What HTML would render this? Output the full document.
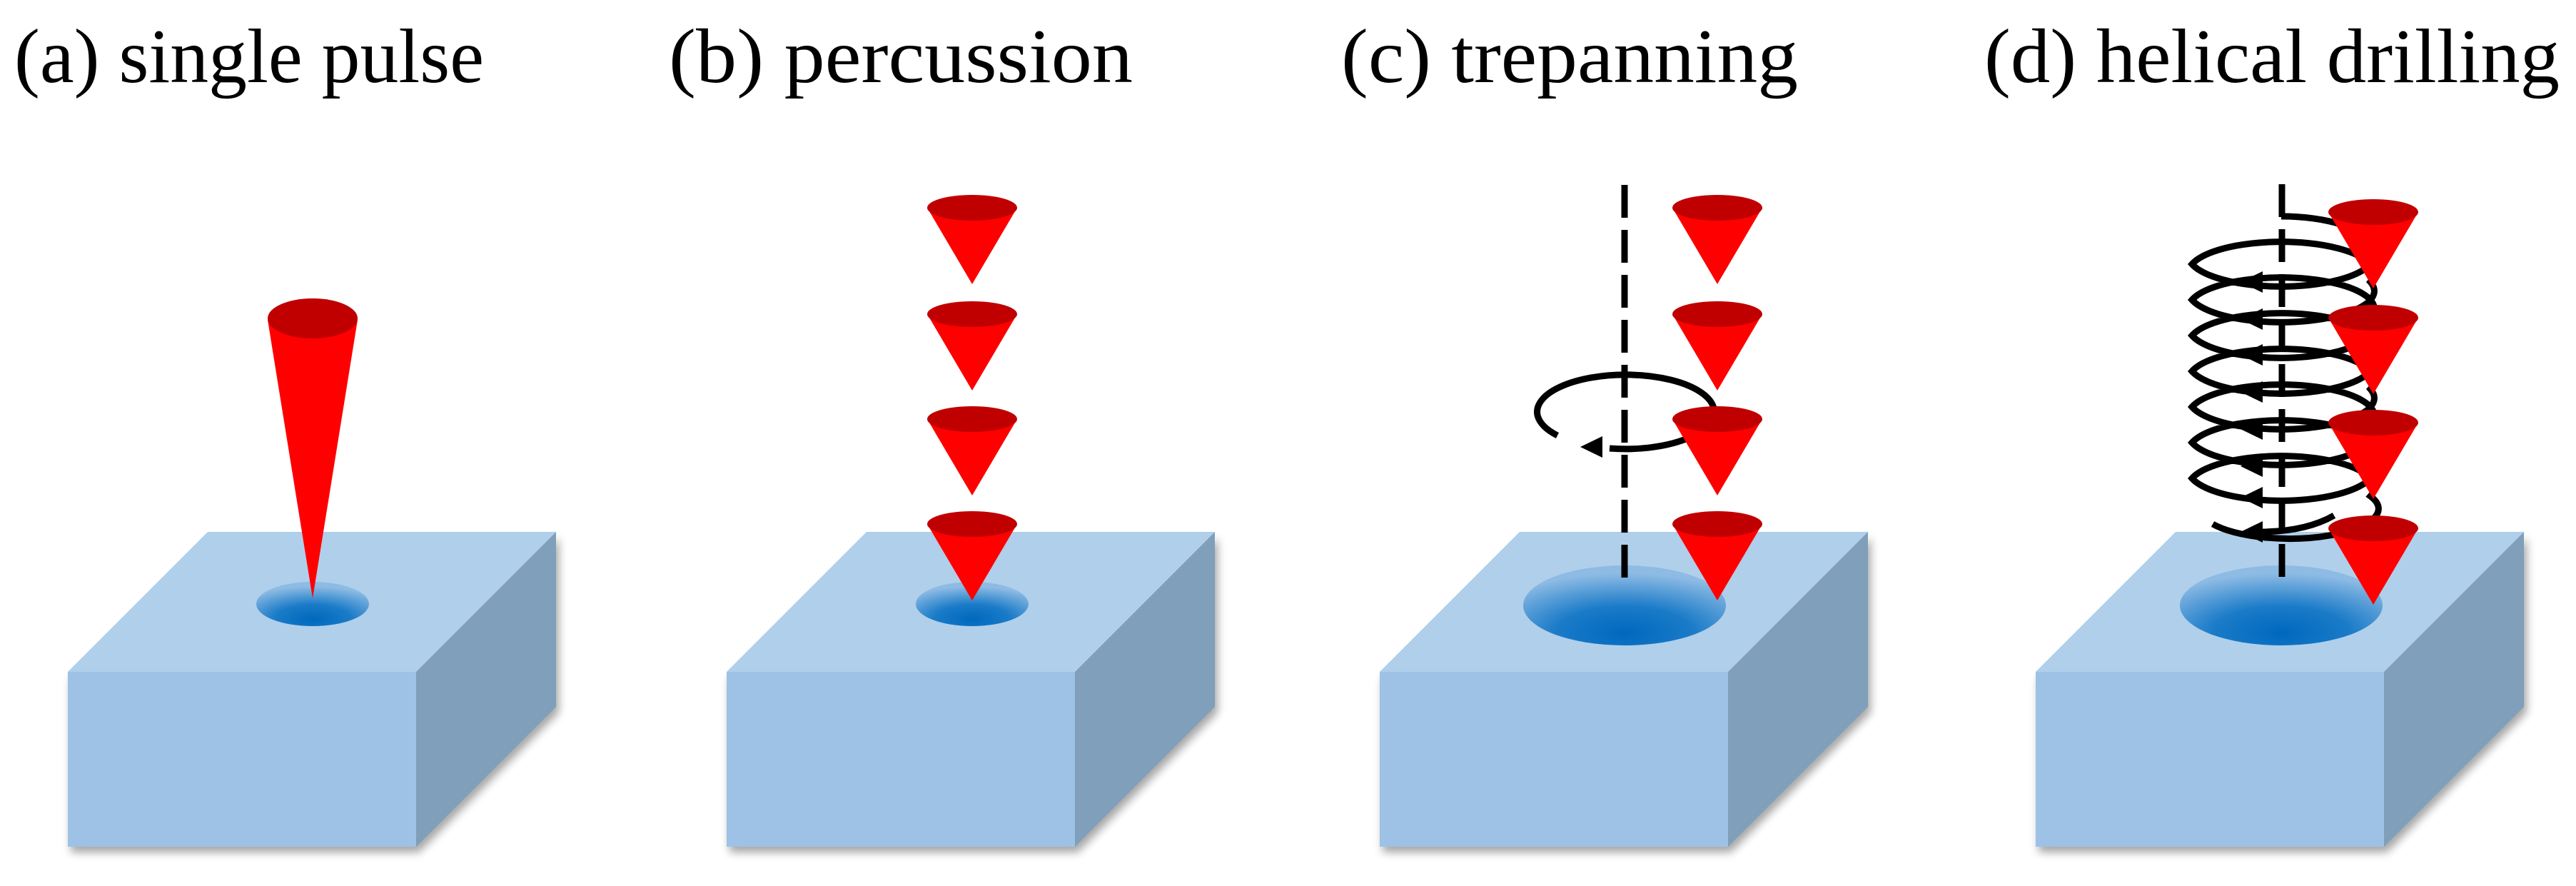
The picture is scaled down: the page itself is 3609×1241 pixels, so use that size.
<!DOCTYPE html>
<html><head><meta charset="utf-8"><style>html,body{margin:0;padding:0;background:#fff}svg{display:block}</style></head>
<body>
<svg width="3609" height="1241" viewBox="0 0 3609 1241" xmlns="http://www.w3.org/2000/svg">
<defs>
<radialGradient id="hole" cx="0.5" cy="0.85" r="0.75">
<stop offset="0" stop-color="#0068bd"/><stop offset="0.45" stop-color="#1a7bc8"/><stop offset="1" stop-color="#8dbbe4"/>
</radialGradient>
<filter id="sh" x="-10%" y="-10%" width="130%" height="130%"><feGaussianBlur stdDeviation="6"/></filter>
<g id="box">
<path d="M0 196 L488 196 L684 0 L684 245 L488 441 L0 441 Z" transform="translate(4,8)" fill="#000" opacity="0.35" filter="url(#sh)"/>
<path d="M0 196 L196 0 L684 0 L488 196 Z" fill="#b0cfea"/>
<path d="M0 196 L488 196 L488 441 L0 441 Z" fill="#9dc2e6"/>
<path d="M488 196 L684 0 L684 245 L488 441 Z" fill="#7f9fba"/>
</g>
<g id="cone">
<path d="M-63 0 L63 0 L0 107 Z" fill="#ff0000"/>
<ellipse cx="0" cy="0" rx="63" ry="18" fill="#c00000"/>
</g>
<path id="ah" d="M0 0 L31 -15 L31 15 Z" fill="#000"/>
</defs>
<g font-family="Liberation Serif, serif" font-size="108" fill="#000">
<text x="20" y="115" textLength="658" lengthAdjust="spacingAndGlyphs">(a) single pulse</text>
<text x="937" y="115" textLength="650" lengthAdjust="spacingAndGlyphs">(b)  percussion</text>
<text x="1879" y="115" textLength="640" lengthAdjust="spacingAndGlyphs">(c)  trepanning</text>
<text x="2780" y="115" textLength="806" lengthAdjust="spacingAndGlyphs">(d) helical drilling</text>
</g>
<!-- a -->
<use href="#box" transform="translate(95,745)"/>
<ellipse cx="438" cy="846" rx="79" ry="31" fill="url(#hole)"/>
<path d="M375 448 L501 448 L438 838 Z" fill="#ff0000"/>
<ellipse cx="438" cy="446" rx="63" ry="28" fill="#c00000"/>
<!-- b -->
<use href="#box" transform="translate(1018,745)"/>
<ellipse cx="1362" cy="846" rx="79" ry="31" fill="url(#hole)"/>
<use href="#cone" transform="translate(1362,291)"/>
<use href="#cone" transform="translate(1362,440)"/>
<use href="#cone" transform="translate(1362,587)"/>
<use href="#cone" transform="translate(1362,734)"/>
<!-- c -->
<use href="#box" transform="translate(1933,745)"/>
<ellipse cx="2276" cy="848" rx="142" ry="56" fill="url(#hole)"/>
<line x1="2276" y1="259" x2="2276" y2="812" stroke="#000" stroke-width="9" stroke-dasharray="46 17"/>
<path d="M2182 610 A124 52 0 1 1 2255 628" fill="none" stroke="#000" stroke-width="9"/>
<use href="#ah" transform="translate(2214,626)"/>
<use href="#cone" transform="translate(2406,291)"/>
<use href="#cone" transform="translate(2406,440)"/>
<use href="#cone" transform="translate(2406,587)"/>
<use href="#cone" transform="translate(2406,734)"/>
<!-- d -->
<use href="#box" transform="translate(2852,745)"/>
<ellipse cx="3196" cy="848" rx="142" ry="56" fill="url(#hole)"/>
<line x1="3197" y1="258" x2="3197" y2="812" stroke="#000" stroke-width="9" stroke-dasharray="46 17"/>
<path fill="none" stroke="#000" stroke-width="9" d="M3196 303 A125 44 0 0 1 3321 345
A125 42 0 0 1 3071 370 A125 42 0 0 1 3321 395
A125 42 0 0 1 3071 420 A125 42 0 0 1 3321 445
A125 42 0 0 1 3071 470 A125 42 0 0 1 3321 495
A125 42 0 0 1 3071 520 A125 42 0 0 1 3321 545
A125 42 0 0 1 3071 570 A125 42 0 0 1 3321 595
A125 42 0 0 1 3071 620 A125 42 0 0 1 3321 645
A125 42 0 0 1 3071 670 A125 42 0 0 1 3321 695
A125 42 0 0 1 3100 734"/>
<path fill="none" stroke="#000" stroke-width="9" d="M3270 722 Q3230 745 3165 745"/>
<use href="#ah" transform="translate(3139,395)"/>
<use href="#ah" transform="translate(3139,447)"/>
<use href="#ah" transform="translate(3139,497)"/>
<use href="#ah" transform="translate(3139,549)"/>
<use href="#ah" transform="translate(3139,601)"/>
<use href="#ah" transform="translate(3139,653)"/>
<use href="#ah" transform="translate(3139,697)"/>
<use href="#ah" transform="translate(3139,745)"/>
<use href="#cone" transform="translate(3325,297)"/>
<use href="#cone" transform="translate(3325,445)"/>
<use href="#cone" transform="translate(3325,592)"/>
<use href="#cone" transform="translate(3325,740)"/>
</svg>
</body></html>
